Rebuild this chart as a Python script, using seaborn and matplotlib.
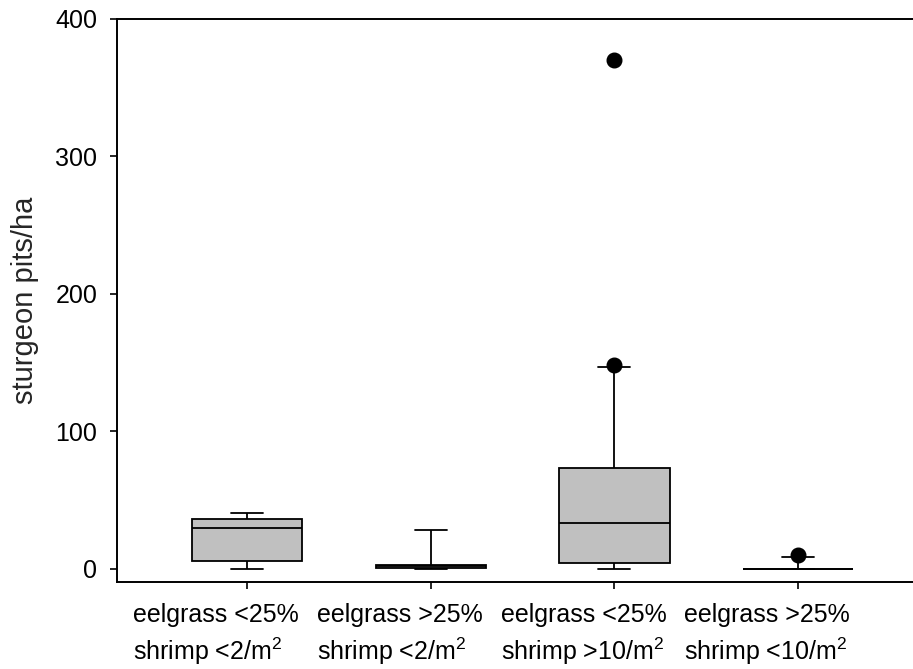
import matplotlib
matplotlib.use("Agg")
import matplotlib.pyplot as plt
import matplotlib.transforms as mtransforms
import seaborn as sns
import pandas as pd

# category labels (two lines each, as on the original x axis)
groups = [
    "eelgrass <25%\nshrimp <2/m$^2$",
    "eelgrass >25%\nshrimp <2/m$^2$",
    "eelgrass <25%\nshrimp >10/m$^2$",
    "eelgrass >25%\nshrimp <10/m$^2$",
]

# sturgeon pits/ha per site, estimated from the box/whisker/outlier positions
low_grass_low_shrimp = [0, 0, 4, 7.6, 20, 30, 33, 35, 38, 41, 41]
high_grass_low_shrimp = [0, 0, 0.8, 1.2, 1.5, 2, 2.3, 2.5, 3, 28, 28]
low_grass_high_shrimp = [0, 0, 0, 1, 3, 4.3, 8, 15, 22, 28, 33.2,
                         40, 48, 55, 64, 73.7, 90, 115, 147, 148.5, 370]
high_grass_mid_shrimp = [0, 0, 0, 0, 0, 0, 0, 0, 0, 8.5, 10]

yticks = [0, 100, 200, 300, 400]

sites = [low_grass_low_shrimp, high_grass_low_shrimp,
         low_grass_high_shrimp, high_grass_mid_shrimp]
df = pd.DataFrame({
    "group": [g for g, vals in zip(groups, sites) for _ in vals],
    "pits": [v for vals in sites for v in vals],
})

sns.set_style("ticks")
plt.rcParams["font.family"] = ["Liberation Sans", "DejaVu Sans"]
plt.rcParams["mathtext.default"] = "regular"

fig = plt.figure(figsize=(9.13, 6.69), dpi=100)
ax = fig.add_axes([0.128, 0.130, 0.872, 0.8416])

# SigmaPlot style box plot: whiskers at 10th/90th percentiles
sns.boxplot(data=df, x="group", y="pits", order=groups, ax=ax,
            whis=(10, 90), width=0.6, color="#c0c0c0", linecolor="black",
            saturation=1, linewidth=1.3, fliersize=10.5, capwidths=0.174,
            flierprops={"marker": "o", "markerfacecolor": "black",
                        "markeredgecolor": "black"})

ax.set_xlim(-0.708, 3.625)
ax.set_ylim(-9.5, 400)
ax.set_yticks(yticks)
ax.set_xlabel("")
ax.set_ylabel("sturgeon pits/ha", fontsize=21, labelpad=12)

ax.spines["right"].set_visible(False)
for s in ["left", "bottom", "top"]:
    ax.spines[s].set_linewidth(1.4)
    ax.spines[s].set_color("black")

ax.tick_params(axis="both", direction="out", length=5, width=1.2,
               color="black", labelcolor="black")
ax.tick_params(axis="y", labelsize=18, pad=9)
ax.tick_params(axis="x", labelsize=18, pad=10)

# labels sit a little left of their ticks in the original
shift = mtransforms.ScaledTranslation(-0.31, 0, fig.dpi_scale_trans)
for lab in ax.get_xticklabels():
    lab.set_linespacing(1.36)
    lab.set_multialignment("left")
    lab.set_transform(lab.get_transform() + shift)

plt.savefig("out.png", dpi=100)
